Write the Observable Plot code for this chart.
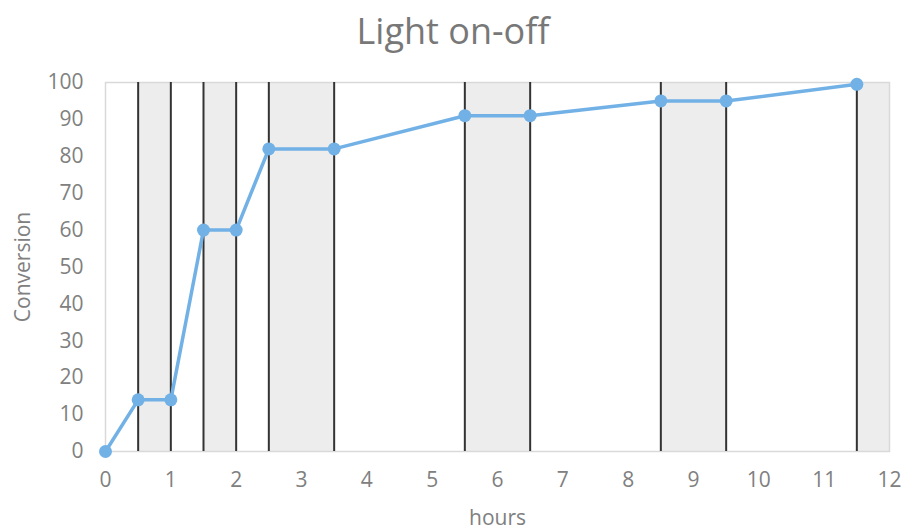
<!DOCTYPE html>
<html>
<head>
<meta charset="utf-8">
<script src="https://cdn.jsdelivr.net/npm/d3@7"></script>
<script src="https://cdn.jsdelivr.net/npm/@observablehq/plot@0.6"></script>
<style>
  html, body { margin: 0; padding: 0; background: #ffffff; }
  #title { height: 60px; line-height: 62px; text-align: center; font-family: "Open Sans", sans-serif; font-size: 36px; color: #787878; }
  #chart svg { display: block; }
</style>
</head>
<body>
<div id="title">Light on-off</div>
<div id="chart"></div>
<script>
const hours = [0, 0.5, 1, 1.5, 2, 2.5, 3.5, 5.5, 6.5, 8.5, 9.5, 11.5];
const conversion = [0, 14, 14, 60, 60, 82, 82, 91, 91, 95, 95, 99.5];
const darkStart = [0.5, 1.5, 2.5, 5.5, 8.5, 11.5];
const darkEnd = [1, 2, 3.5, 6.5, 9.5, 12];
const switchTimes = [0.5, 1, 1.5, 2, 2.5, 3.5, 5.5, 6.5, 8.5, 9.5, 11.5];
const xTicks = [0, 1, 2, 3, 4, 5, 6, 7, 8, 9, 10, 11, 12];
const yTicks = [0, 10, 20, 30, 40, 50, 60, 70, 80, 90, 100];

const points = hours.map((h, i) => ({hours: h, conversion: conversion[i]}));
const dark = darkStart.map((s, i) => ({x1: s, x2: darkEnd[i]}));

const chart = Plot.plot({
  width: 906,
  height: 470,
  marginTop: 22,
  marginBottom: 79,
  marginLeft: 105,
  marginRight: 17,
  style: {fontFamily: "Open Sans, sans-serif", fontSize: "20px", color: "#808080", background: "#ffffff"},
  x: {domain: [0, 12]},
  y: {domain: [0, 100]},
  marks: [
    Plot.rectX(dark, {x1: "x1", x2: "x2", fill: "#ededed"}),
    Plot.frame({stroke: "#d9d9d9", strokeWidth: 1.5}),
    Plot.ruleX(switchTimes, {stroke: "#333333", strokeWidth: 2}),
    Plot.axisX({ticks: xTicks, tickSize: 0, tickPadding: 21, label: "hours", labelAnchor: "center", labelArrow: "none", labelOffset: 73, fontSize: 21}),
    Plot.axisY({ticks: yTicks, tickSize: 0, tickPadding: 22, label: "Conversion", labelAnchor: "center", labelArrow: "none", labelOffset: 90, fontSize: 21}),
    Plot.line(points, {x: "hours", y: "conversion", stroke: "#72b1e6", strokeWidth: 3.5}),
    Plot.dot(points, {x: "hours", y: "conversion", fill: "#72b1e6", r: 6.5})
  ]
});
document.getElementById("chart").appendChild(chart);
</script>
</body>
</html>
